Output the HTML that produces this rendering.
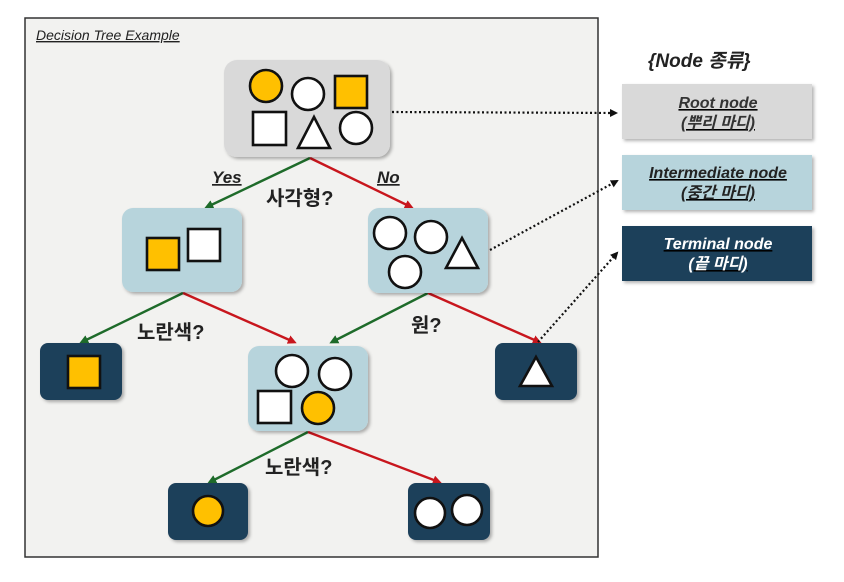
<!DOCTYPE html>
<html><head><meta charset="utf-8"><style>
body{margin:0;background:#fff;}
svg text{font-family:"Liberation Sans","Noto Sans CJK KR",sans-serif;}
</style></head><body>
<svg width="844" height="577" viewBox="0 0 844 577" xmlns="http://www.w3.org/2000/svg">
<defs>
<filter id="sh" x="-10%" y="-10%" width="130%" height="130%"><feDropShadow dx="2" dy="2" stdDeviation="1.5" flood-color="#000" flood-opacity="0.3"/></filter>
<marker id="ag" markerWidth="9" markerHeight="9" refX="6" refY="4.5" orient="auto" markerUnits="userSpaceOnUse"><path d="M0,0 L9,4.5 L0,9z" fill="#1e6b2a"/></marker>
<marker id="ar" markerWidth="9" markerHeight="9" refX="6" refY="4.5" orient="auto" markerUnits="userSpaceOnUse"><path d="M0,0 L9,4.5 L0,9z" fill="#c8161d"/></marker>
<marker id="ak" markerWidth="8" markerHeight="8" refX="6" refY="4" orient="auto" markerUnits="userSpaceOnUse"><path d="M0,0 L8,4 L0,8z" fill="#111"/></marker>
</defs>
<rect x="25" y="18" width="573" height="539" fill="#f2f2f0" stroke="#333" stroke-width="1.5"/>
<text x="36" y="40" font-size="14" font-style="italic" text-decoration="underline" fill="#222">Decision Tree Example</text>

<g stroke-width="2.4">
<line x1="310" y1="158" x2="207" y2="207" stroke="#1e6b2a" marker-end="url(#ag)"/>
<line x1="310" y1="158" x2="411" y2="207" stroke="#c8161d" marker-end="url(#ar)"/>
<line x1="183" y1="293" x2="82" y2="342" stroke="#1e6b2a" marker-end="url(#ag)"/>
<line x1="183" y1="293" x2="294" y2="342" stroke="#c8161d" marker-end="url(#ar)"/>
<line x1="428" y1="293" x2="332" y2="342" stroke="#1e6b2a" marker-end="url(#ag)"/>
<line x1="428" y1="293" x2="539" y2="342" stroke="#c8161d" marker-end="url(#ar)"/>
<line x1="308" y1="432" x2="210" y2="482" stroke="#1e6b2a" marker-end="url(#ag)"/>
<line x1="308" y1="432" x2="439" y2="482" stroke="#c8161d" marker-end="url(#ar)"/>
</g>
<g stroke="#111" stroke-width="2.2" stroke-dasharray="2,2.5" fill="none">
<line x1="392" y1="112" x2="616" y2="113" marker-end="url(#ak)"/>
<line x1="490" y1="250" x2="617" y2="181" marker-end="url(#ak)"/>
<line x1="538" y1="342" x2="617" y2="253" marker-end="url(#ak)"/>
</g>

<g filter="url(#sh)">
<rect x="224" y="60" width="166" height="97" rx="13" fill="#d9d9d9"/>
<rect x="122" y="208" width="120" height="84" rx="11" fill="#b7d4dc"/>
<rect x="368" y="208" width="120" height="85" rx="11" fill="#b7d4dc"/>
<rect x="248" y="346" width="120" height="85" rx="11" fill="#b7d4dc"/>
<rect x="40" y="343" width="82" height="57" rx="8" fill="#1f3f5a"/>
<rect x="495" y="343" width="82" height="57" rx="8" fill="#1f3f5a"/>
<rect x="168" y="483" width="80" height="57" rx="8" fill="#1f3f5a"/>
<rect x="408" y="483" width="82" height="57" rx="8" fill="#1f3f5a"/>
<rect x="622" y="84" width="190" height="55" fill="#d9d9d9"/>
<rect x="622" y="155" width="190" height="55" fill="#b7d4dc"/>
<rect x="622" y="226" width="190" height="55" fill="#1f3f5a"/>
</g>

<g stroke="#111" stroke-width="2.6">
<circle cx="266" cy="86" r="16" fill="#ffc000"/>
<circle cx="308" cy="94" r="16" fill="#fff"/>
<rect x="335" y="76" width="32" height="32" fill="#ffc000"/>
<rect x="253" y="112" width="33" height="33" fill="#fff"/>
<path d="M314,117 L330,148 L298,148z" fill="#fff"/>
<circle cx="356" cy="128" r="16" fill="#fff"/>

<rect x="147" y="238" width="32" height="32" fill="#ffc000"/>
<rect x="188" y="229" width="32" height="32" fill="#fff"/>

<circle cx="390" cy="233" r="16" fill="#fff"/>
<circle cx="431" cy="237" r="16" fill="#fff"/>
<circle cx="405" cy="272" r="16" fill="#fff"/>
<path d="M462,238 L478,268 L446,268z" fill="#fff"/>

<circle cx="292" cy="371" r="16" fill="#fff"/>
<circle cx="335" cy="374" r="16" fill="#fff"/>
<rect x="258" y="391" width="33" height="32" fill="#fff"/>
<circle cx="318" cy="408" r="16" fill="#ffc000"/>

<rect x="68" y="356" width="32" height="32" fill="#ffc000"/>
<path d="M536,357 L552,386 L520,386z" fill="#fff"/>
<circle cx="208" cy="511" r="15" fill="#ffc000"/>
<circle cx="430" cy="513" r="15" fill="#fff"/>
<circle cx="467" cy="510" r="15" fill="#fff"/>
</g>

<g font-weight="bold" fill="#222">
<text x="212" y="183" font-size="17" font-style="italic" text-decoration="underline">Yes</text>
<text x="377" y="183" font-size="17" font-style="italic" text-decoration="underline">No</text>
<text x="266" y="205" font-size="20">사각형?</text>
<text x="137" y="339" font-size="20">노란색?</text>
<text x="411" y="332" font-size="20">원?</text>
<text x="265" y="474" font-size="20">노란색?</text>
<text x="648" y="67" font-size="19" font-style="italic">{Node 종류}</text>
</g>
<g font-weight="bold" font-style="italic" font-size="16" text-anchor="middle" text-decoration="underline">
<text x="718" y="108" fill="#333">Root node</text>
<text x="718" y="128" fill="#333">(뿌리 마디)</text>
<text x="718" y="178" fill="#222">Intermediate node</text>
<text x="718" y="198" fill="#222">(중간 마디)</text>
<text x="718" y="249" fill="#fff">Terminal node</text>
<text x="718" y="269" fill="#fff">(끝 마디)</text>
</g>
</svg>
</body></html>
